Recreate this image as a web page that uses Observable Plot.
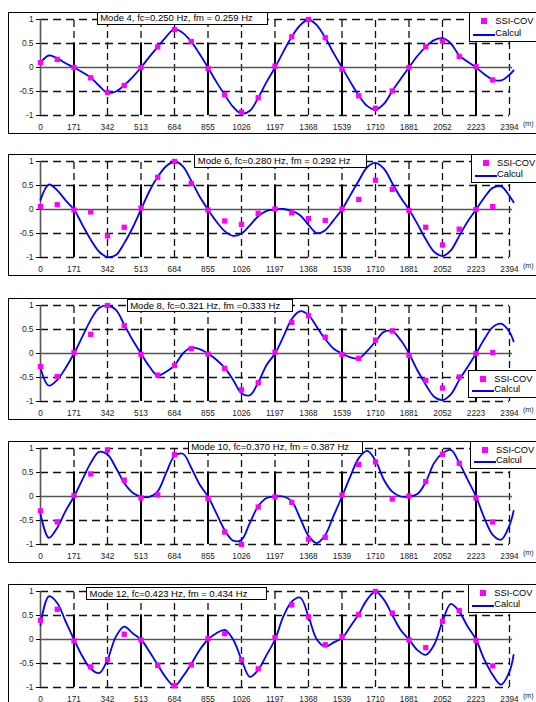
<!DOCTYPE html>
<html><head><meta charset="utf-8">
<script src="https://cdn.jsdelivr.net/npm/d3@7"></script>
<script src="https://cdn.jsdelivr.net/npm/@observablehq/plot@0.6"></script>
<style>
body{margin:0;background:#fff;font-family:"Liberation Sans",Arial,sans-serif;}
#root{position:relative;width:536px;height:702px;overflow:hidden;background:#fff;}
.panel{position:absolute;left:8px;width:560px;height:122px;border:1px solid #000;box-sizing:border-box;}
.plot{position:absolute;left:0;}
.title{position:absolute;border:1px solid #000;background:#fff;font-size:9.5px;line-height:11px;padding:0 0 0 2.5px;white-space:nowrap;box-sizing:border-box;color:#000;}
.legend{position:absolute;border:1px solid #000;background:#fff;width:90px;box-sizing:border-box;font-size:9.3px;color:#000;}
.legend .sq{position:absolute;width:6px;height:6px;background:#ff00ff;}
.legend .ln{position:absolute;height:2px;background:#0000ff;}
.legend .tx{position:absolute;white-space:nowrap;line-height:10px;}
.unit{position:absolute;font-size:7px;line-height:8px;color:#222;}
</style>
</head><body><div id="root"></div>
<script>
// ---------- data ----------
const titles = [
  "Mode 4, fc=0.250 Hz, fm = 0.259 Hz",
  "Mode 6, fc=0.280 Hz, fm = 0.292 Hz",
  "Mode 8, fc=0.321 Hz, fm =0.333 Hz",
  "Mode 10, fc=0.370 Hz, fm = 0.387 Hz",
  "Mode 12, fc=0.423 Hz, fm = 0.434 Hz"
];
const legendLabels = ["SSI-COV", "Calcul"];
const xTicks = [0, 171, 342, 513, 684, 855, 1026, 1197, 1368, 1539, 1710, 1881, 2052, 2223, 2394];
const yTicks = [-1, -0.5, 0, 0.5, 1];
const piers = [171, 513, 855, 1197, 1539, 1881, 2223];

// SSI-COV measurement positions (m)
const pointX = [0, 85.5, 171, 256.5, 342, 427.5, 513, 598.5, 684, 769.5, 855, 940.5, 1026, 1111.5,
  1197, 1282.5, 1368, 1453.5, 1539, 1624.5, 1710, 1795.5, 1881, 1966.5, 2052, 2137.5, 2223, 2308.5];

const ssi4  = [0.10, 0.17, 0.00, -0.215, -0.52, -0.375, 0.00, 0.43, 0.79, 0.54, -0.02, -0.57, -0.93, -0.63,
  0.03, 0.64, 1.00, 0.62, -0.035, -0.59, -0.85, -0.49, 0.00, 0.43, 0.55, 0.23, 0.02, -0.26];
const ssi6  = [0.06, 0.10, -0.01, -0.05, -0.55, -0.37, 0.03, 0.67, 1.00, 0.54, -0.01, -0.24, -0.31, -0.08,
  0.01, -0.07, -0.19, -0.23, 0.01, 0.21, 0.61, 0.42, -0.02, -0.37, -0.74, -0.41, 0.00, 0.06];
const ssi8  = [-0.27, -0.48, 0.02, 0.40, 1.00, 0.58, -0.02, -0.45, -0.25, 0.10, -0.01, -0.31, -0.76, -0.61,
  0.03, 0.65, 0.79, 0.34, -0.02, -0.10, 0.28, 0.47, -0.04, -0.56, -0.72, -0.49, 0.00, 0.02];
const ssi10 = [-0.30, -0.53, 0.02, 0.47, 0.97, 0.34, -0.03, 0.035, 0.87, null, -0.04, -0.74, -1.00, -0.22,
  -0.01, -0.12, -0.89, -0.85, 0.03, 0.67, 0.72, -0.05, 0.01, 0.31, 0.88, 0.69, -0.03, -0.53];
const ssi12 = [0.40, 0.63, -0.03, -0.57, -0.42, 0.11, -0.01, -0.54, -0.96, -0.53, 0.02, 0.12, -0.42, -0.61,
  0.04, 0.72, 0.47, -0.11, 0.06, 0.52, 1.00, 0.55, -0.01, -0.17, 0.38, 0.60, -0.02, -0.55];

// Calcul knots (m)
const curveX = [0, 42.75, 85.5, 128.25, 171, 213.75, 256.5, 299.25, 342, 384.75, 427.5, 470.25,
  513, 555.75, 598.5, 641.25, 684, 726.75, 769.5, 812.25, 855, 897.75, 940.5, 983.25,
  1026, 1068.75, 1111.5, 1154.25, 1197, 1239.75, 1282.5, 1325.25, 1368, 1410.75, 1453.5, 1496.25,
  1539, 1581.75, 1624.5, 1667.25, 1710, 1752.75, 1795.5, 1838.25, 1881, 1923.75, 1966.5, 2009.25,
  2052, 2094.75, 2137.5, 2180.25, 2223, 2265.75, 2308.5, 2351.25, 2394, 2415];

const calc4 = [0.10, 0.25, 0.19, 0.09, 0, -0.10, -0.21, -0.38, -0.53, -0.50, -0.37, -0.20,
  0, 0.22, 0.43, 0.64, 0.80, 0.72, 0.54, 0.28, 0, -0.30, -0.57, -0.82,
  -0.96, -0.90, -0.63, -0.30, 0, 0.33, 0.64, 0.88, 1.00, 0.88, 0.62, 0.30,
  0, -0.30, -0.58, -0.80, -0.88, -0.76, -0.49, -0.24, 0, 0.24, 0.43, 0.57,
  0.61, 0.50, 0.25, 0.12, 0, -0.14, -0.25, -0.27, -0.15, -0.06];
const calc6 = [0.20, 0.52, 0.40, 0.19, 0, -0.32, -0.63, -0.88, -0.99, -0.95, -0.70, -0.38,
  0, 0.38, 0.68, 0.90, 1.00, 0.90, 0.60, 0.27, 0, -0.25, -0.45, -0.55,
  -0.50, -0.33, -0.14, -0.03, 0, 0.01, -0.03, -0.12, -0.32, -0.49, -0.43, -0.22,
  0, 0.30, 0.60, 0.88, 0.97, 0.85, 0.55, 0.25, 0, -0.30, -0.62, -0.88,
  -0.97, -0.85, -0.55, -0.25, 0, 0.25, 0.45, 0.48, 0.28, 0.15];
const calc8 = [-0.30, -0.67, -0.55, -0.30, 0, 0.35, 0.70, 0.95, 1.00, 0.91, 0.60, 0.28,
  0, -0.27, -0.46, -0.38, -0.25, 0.00, 0.12, 0.09, 0, -0.13, -0.30, -0.55,
  -0.83, -0.87, -0.60, -0.24, 0, 0.35, 0.72, 0.88, 0.80, 0.55, 0.30, 0.10,
  0, -0.08, -0.10, 0.05, 0.25, 0.45, 0.46, 0.28, 0, -0.35, -0.65, -0.90,
  -0.97, -0.85, -0.55, -0.28, 0, 0.30, 0.55, 0.62, 0.45, 0.25];
const calc10 = [-0.37, -0.86, -0.65, -0.30, 0, 0.35, 0.70, 0.93, 0.875, 0.60, 0.28, 0.08,
  0, -0.01, 0.11, 0.49, 0.84, 0.89, 0.60, 0.25, 0, -0.35, -0.70, -0.92,
  -0.90, -0.55, -0.20, -0.03, 0, 0.00, -0.10, -0.45, -0.82, -0.97, -0.80, -0.40,
  0, 0.42, 0.80, 0.95, 0.75, 0.35, 0.10, 0.00, 0, 0.05, 0.30, 0.70,
  0.90, 0.97, 0.70, 0.35, 0, -0.45, -0.80, -0.90, -0.60, -0.30];
const calc12 = [0.30, 0.90, 0.76, 0.375, 0, -0.35, -0.61, -0.70, -0.42, 0.06, 0.27, 0.13,
  0, -0.25, -0.53, -0.80, -0.97, -0.77, -0.51, -0.22, 0, 0.13, 0.20, 0.00,
  -0.42, -0.78, -0.63, -0.32, 0, 0.48, 0.79, 0.875, 0.48, 0.00, -0.15, -0.06,
  0.03, 0.27, 0.53, 0.83, 1.00, 0.83, 0.51, 0.20, 0, -0.22, -0.32, -0.11,
  0.38, 0.74, 0.58, 0.27, 0, -0.42, -0.74, -0.94, -0.67, -0.32];

const ssiSeries = [ssi4, ssi6, ssi8, ssi10, ssi12];
const calcSeries = [calc4, calc6, calc8, calc10, calc12];

// ---------- layout ----------
const panelTop = [12, 154, 298, 441, 584];
const titleBox = [[96.7, 0, 171.3, 12.9], [194.3, 0.3, 172.4, 13.4], [126.7, 1, 166.6, 13.4], [187.7, 0, 175.6, 12.8], [86, 3, 181, 13.4]];
const legendBox = [[469.3, 0, 30.4], [471, 0, 29.4], [468.3, 71.7, 28.3], [470, 0, 28.3], [468.3, 0, 29]];

const root = document.getElementById("root");
const font = "'Liberation Sans', Arial, sans-serif";

panelTop.forEach((top, i) => {
  const frame = document.createElement("div");
  frame.className = "panel";
  frame.style.top = top + "px";
  root.appendChild(frame);

  const pts = pointX.map((x, k) => ({x, y: ssiSeries[i][k]})).filter(d => d.y != null);
  const line = curveX.map((x, k) => ({x, y: calcSeries[i][k]}));
  const hGrid = yTicks.filter(d => d !== 0);
  const vGrid = xTicks.filter(d => d !== 0);

  const svg = Plot.plot({
    width: 536, height: 125,
    marginLeft: 40, marginRight: 27, marginTop: 7, marginBottom: 22,
    x: {domain: [0, 2394]},
    y: {domain: [-1, 1]},
    style: {fontFamily: font, background: "transparent", overflow: "visible", color: "#222"},
    marks: [
      Plot.ruleY(hGrid, {x1: 0, x2: 2394, stroke: "#111", strokeWidth: 1.3, strokeDasharray: "8 5"}),
      Plot.ruleX(vGrid, {y1: -1, y2: 1, stroke: "#111", strokeWidth: 1.3, strokeDasharray: "7 4"}),
      Plot.ruleX(piers, {y1: 0.5, y2: -1, stroke: "#000", strokeWidth: 2}),
      Plot.ruleY([0], {x1: 0, x2: 2410, stroke: "#555", strokeWidth: 1.5}),
      Plot.ruleX([0], {y1: -1, y2: 1, stroke: "#555", strokeWidth: 1.6}),
      Plot.axisY({ticks: yTicks, label: null, tickSize: 4, tickPadding: 3, tickFormat: d => String(d), fontSize: 8.3, stroke: "#000"}),
      Plot.axisX({ticks: xTicks, label: null, tickSize: 0, tickPadding: 9, tickFormat: d => String(d), fontSize: 8.3}),
      Plot.line(line, {x: "x", y: "y", stroke: "#0000ff", strokeWidth: 1.8, curve: "catmull-rom"}),
      Plot.dot(pts, {x: "x", y: "y", symbol: "square", r: 3, fill: "#ff00ff", stroke: "none"})
    ]
  });
  svg.classList.add("plot");
  svg.style.top = top + "px";
  root.appendChild(svg);

  const unit = document.createElement("div");
  unit.className = "unit";
  unit.textContent = "(m)";
  unit.style.left = "523px";
  unit.style.top = (top + 108) + "px";
  root.appendChild(unit);

  const [tl, tdy, tw, th] = titleBox[i];
  const t = document.createElement("div");
  t.className = "title";
  t.textContent = titles[i];
  t.style.left = tl + "px";
  t.style.top = (top + tdy) + "px";
  t.style.width = tw + "px";
  t.style.height = th + "px";
  t.style.lineHeight = (th - 2) + "px";
  root.appendChild(t);

  const [ll, ldy, lh] = legendBox[i];
  const lg = document.createElement("div");
  lg.className = "legend";
  lg.style.left = ll + "px";
  lg.style.top = (top + ldy) + "px";
  lg.style.height = lh + "px";
  lg.innerHTML =
    `<div class="sq" style="left:10.5px;top:5px"></div>` +
    `<div class="tx" style="left:25px;top:3px">${legendLabels[0]}</div>` +
    `<div class="ln" style="left:3px;width:21.5px;top:${lh - 9}px"></div>` +
    `<div class="tx" style="left:25px;top:${lh - 15}px">${legendLabels[1]}</div>`;
  root.appendChild(lg);
});
</script>
</body></html>
